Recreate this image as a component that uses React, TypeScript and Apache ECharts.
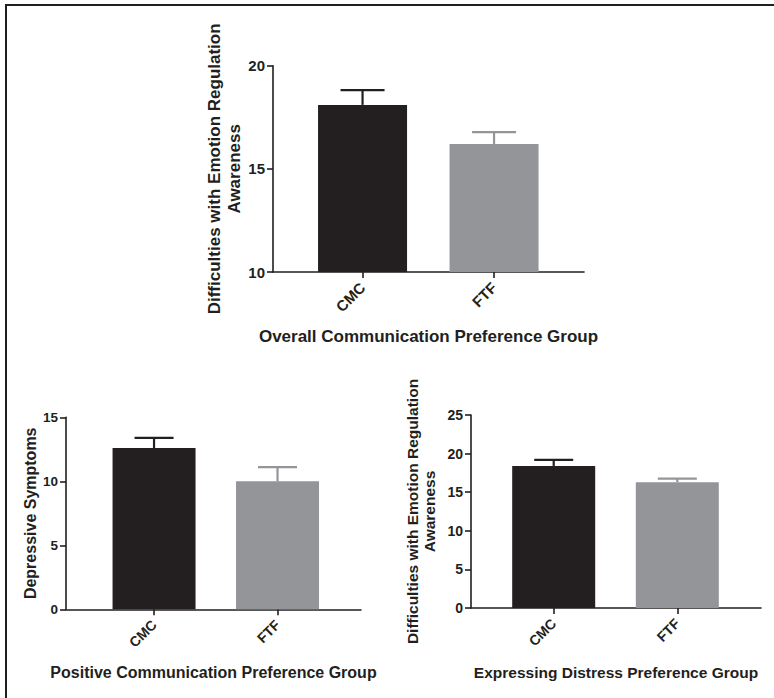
import React, { useEffect, useRef } from "react";
import * as echarts from "echarts";

// ---- data ----
const categories = ["CMC", "FTF"];
const barColors = ["#231f20", "#939598"];

const overallMeans = [18.1, 16.2];
const overallErrors = [0.72, 0.58];
const overallTicks = [10, 15, 20];

const positiveMeans = [12.6, 10.0];
const positiveErrors = [0.8, 1.1];
const positiveTicks = [0, 5, 10, 15];

const distressMeans = [18.4, 16.3];
const distressErrors = [0.8, 0.45];
const distressTicks = [0, 5, 10, 15, 20, 25];

const overallYTitle = "Difficulties with Emotion Regulation\nAwareness";
const overallXTitle = "Overall Communication Preference Group";
const positiveYTitle = "Depressive Symptoms";
const positiveXTitle = "Positive Communication Preference Group";
const distressYTitle = "Difficulties with Emotion Regulation\nAwareness";
const distressXTitle = "Expressing Distress Preference Group";

const INK = "#231f20";
const FONT = "'Liberation Sans', Arial, Helvetica, sans-serif";

type Panel = {
  grid: { left: number; top: number; width: number; height: number };
  xMin: number;
  xMax: number;
  barWidth: number;
  cap: number;
  means: number[];
  errors: number[];
  ticks: number[];
  yTitle: string;
  xTitle: string;
  yNameGap: number;
  xNameGap: number;
  titleSize: number;
  titleLineHeight: number;
  tickSize: number;
  labelSize: number;
};

const panels: Panel[] = [
  {
    grid: { left: 273, top: 65.7, width: 311, height: 206.3 },
    xMin: -0.681,
    xMax: 1.684,
    barWidth: 89,
    cap: 22,
    means: overallMeans,
    errors: overallErrors,
    ticks: overallTicks,
    yTitle: overallYTitle,
    xTitle: overallXTitle,
    yNameGap: 28,
    xNameGap: 56,
    titleSize: 17,
    titleLineHeight: 20,
    tickSize: 15,
    labelSize: 15,
  },
  {
    grid: { left: 66, top: 417.3, width: 295, height: 192 },
    xMin: -0.713,
    xMax: 1.676,
    barWidth: 83,
    cap: 19.5,
    means: positiveMeans,
    errors: positiveErrors,
    ticks: positiveTicks,
    yTitle: positiveYTitle,
    xTitle: positiveXTitle,
    yNameGap: 21,
    xNameGap: 55,
    titleSize: 16,
    titleLineHeight: 18,
    tickSize: 13.5,
    labelSize: 14,
  },
  {
    grid: { left: 471, top: 415, width: 290, height: 193 },
    xMin: -0.669,
    xMax: 1.677,
    barWidth: 83,
    cap: 19.5,
    means: distressMeans,
    errors: distressErrors,
    ticks: distressTicks,
    yTitle: distressYTitle,
    xTitle: distressXTitle,
    yNameGap: 33,
    xNameGap: 56,
    titleSize: 15.5,
    titleLineHeight: 17,
    tickSize: 14,
    labelSize: 14,
  },
];

function buildOption() {
  const grid = panels.map((p) => ({ ...p.grid, containLabel: false }));
  const xAxis = panels.map((p, i) => ({
    type: "value",
    gridIndex: i,
    min: p.xMin,
    max: p.xMax,
    name: p.xTitle,
    nameLocation: "middle",
    nameGap: p.xNameGap,
    nameTextStyle: {
      color: INK,
      fontFamily: FONT,
      fontWeight: "bold",
      fontSize: p.titleSize,
    },
    axisLine: { show: true, onZero: false, lineStyle: { color: INK, width: 1.6 } },
    axisTick: {
      show: true,
      length: 6,
      customValues: categories.map((_, k) => k),
      lineStyle: { color: INK, width: 1.6 },
    },
    axisLabel: {
      show: true,
      customValues: categories.map((_, k) => k),
      rotate: 45,
      margin: 13,
      color: INK,
      fontFamily: FONT,
      fontWeight: "bold",
      fontSize: p.labelSize,
      formatter: (v: number) => categories[Math.round(v)] ?? "",
    },
    splitLine: { show: false },
  }));
  const yAxis = panels.map((p, i) => {
    const min = p.ticks[0];
    const max = p.ticks[p.ticks.length - 1];
    const interval = p.ticks[1] - p.ticks[0];
    return {
      type: "value",
      gridIndex: i,
      min,
      max,
      interval,
      name: p.yTitle,
      nameLocation: "middle",
      nameGap: p.yNameGap,
      nameTextStyle: {
        color: INK,
        fontFamily: FONT,
        fontWeight: "bold",
        fontSize: p.titleSize,
        lineHeight: p.titleLineHeight,
        align: "center",
      },
      axisLine: { show: true, onZero: false, lineStyle: { color: INK, width: 1.6 } },
      axisTick: { show: true, length: 6, lineStyle: { color: INK, width: 1.6 } },
      axisLabel: {
        margin: 8,
        color: INK,
        fontFamily: FONT,
        fontWeight: "bold",
        fontSize: p.tickSize,
      },
      splitLine: { show: false },
    };
  });

  const series: any[] = [];
  panels.forEach((p, i) => {
    series.push({
      type: "bar",
      xAxisIndex: i,
      yAxisIndex: i,
      barWidth: p.barWidth,
      data: p.means.map((m, k) => ({
        value: [k, m],
        itemStyle: { color: barColors[k] },
      })),
      z: 2,
    });
    const cap = p.cap;
    series.push({
      type: "custom",
      xAxisIndex: i,
      yAxisIndex: i,
      z: 3,
      encode: { x: 0, y: 1 },
      data: p.means.map((m, k) => [k, m, p.errors[k]]),
      renderItem: (params: any, api: any) => {
        const x = api.value(0);
        const m = api.value(1);
        const e = api.value(2);
        const base = api.coord([x, m]);
        const top = api.coord([x, m + e]);
        const color = barColors[params.dataIndex];
        return {
          type: "group",
          children: [
            {
              type: "line",
              shape: { x1: base[0], y1: base[1], x2: top[0], y2: top[1] },
              style: { stroke: color, lineWidth: 2.2 },
            },
            {
              type: "line",
              shape: { x1: top[0] - cap, y1: top[1], x2: top[0] + cap, y2: top[1] },
              style: { stroke: color, lineWidth: 2.2 },
            },
          ],
        };
      },
    });
  });

  return {
    animation: false,
    backgroundColor: "#ffffff",
    textStyle: { fontFamily: FONT },
    graphic: [
      {
        type: "line",
        shape: { x1: 5, y1: 5, x2: 774, y2: 5 },
        style: { stroke: INK, lineWidth: 2 },
      },
      {
        type: "line",
        shape: { x1: 6, y1: 4, x2: 6, y2: 698 },
        style: { stroke: INK, lineWidth: 2 },
      },
    ],
    grid,
    xAxis,
    yAxis,
    series,
  };
}

export default function App() {
  const ref = useRef<HTMLDivElement>(null);
  useEffect(() => {
    if (!ref.current) return;
    const chart = echarts.init(ref.current, undefined, { renderer: "svg" });
    chart.setOption(buildOption() as any);
    return () => chart.dispose();
  }, []);
  return (
    <div
      ref={ref}
      style={{ position: "absolute", left: 0, top: 0, width: 774, height: 698, background: "#fff" }}
    />
  );
}
